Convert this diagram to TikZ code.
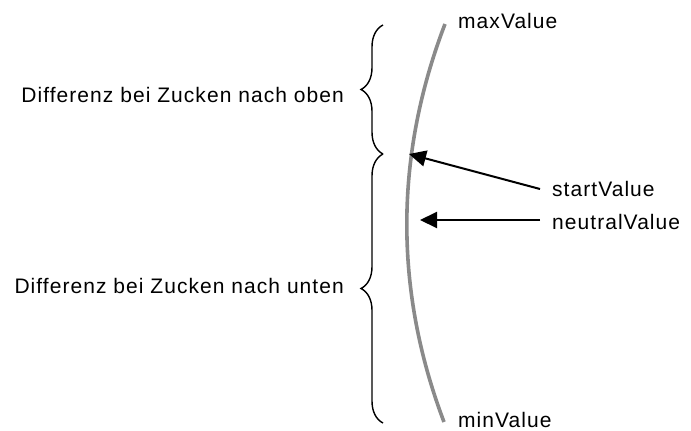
\documentclass[tikz,border=0pt]{standalone}
\usepackage{fontspec}
\setmainfont[LetterSpace=5.0]{Liberation Sans}
\usetikzlibrary{decorations.pathreplacing,arrows.meta}
\begin{document}
\begin{tikzpicture}[x=1pt,y=-1pt,
  lbl/.style={inner sep=0pt,font=\fontsize{21}{25}\selectfont},
  valcurve/.style={line width=3.6pt,draw={rgb,255:red,138;green,138;blue,138}},
  bracestyle/.style={line width=1.4pt,decorate,decoration={brace,amplitude=22pt}},
  ptr/.style={line width=2pt,-{Triangle[length=17pt,width=16pt]}}]
\useasboundingbox (0,0) rectangle (691,431);
\draw[valcurve] (445,24) .. controls (394.5,156) and (394,290) .. (444,422);
% labels
\node[lbl,anchor=base west] (max) at (458,28) {maxValue};
\node[lbl,anchor=base west] (min) at (458,427) {minValue};
\node[lbl,anchor=base west] (start) at (552,196) {startValue};
\node[lbl,anchor=base west] (neutral) at (552,229) {neutralValue};
\node[lbl,anchor=base east] (up) at (344,102) {Differenz bei Zucken nach oben};
\node[lbl,anchor=base east] (down) at (344,293) {Differenz bei Zucken nach unten};
% braces
\coordinate (b1top) at (383,25);
\coordinate (b1bot) at (383,154);
\coordinate (b2top) at (383,154);
\coordinate (b2bot) at (383,423);
\draw[bracestyle] (b1bot) -- (b1top);
\draw[bracestyle] (b2bot) -- (b2top);
% arrows
\coordinate (sTail) at (540,189);
\coordinate (sTip) at (409,154);
\coordinate (nTail) at (540,220);
\coordinate (nTip) at (420,220);
\draw[ptr] (sTail) -- (sTip);
\draw[ptr] (nTail) -- (nTip);
\end{tikzpicture}
\end{document}
